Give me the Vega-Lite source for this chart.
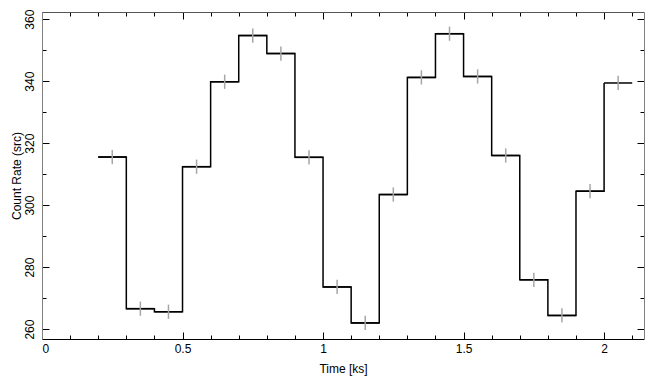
{
  "$schema": "https://vega.github.io/schema/vega-lite/v6.json",
  "width": 602,
  "height": 327,
  "autosize": "none",
  "padding": {"left": 42, "top": 12, "right": 11, "bottom": 47},
  "config": {
    "view": {"stroke": null},
    "font": "Liberation Sans",
    "axis": {"grid": false, "labelColor": "black", "titleColor": "black", "labelFontSize": 12, "titleFontSize": 12, "titleFontWeight": "normal", "tickColor": "black", "tickWidth": 1}
  },
  "data": {"values": [
    {"start": 0.2, "end": 0.3, "t": 0.25, "rate": 315.5, "lo": 313.2, "hi": 317.8},
    {"start": 0.3, "end": 0.4, "t": 0.35, "rate": 266.6, "lo": 264.3, "hi": 268.9},
    {"start": 0.4, "end": 0.5, "t": 0.45, "rate": 265.6, "lo": 263.3, "hi": 267.9},
    {"start": 0.5, "end": 0.6, "t": 0.55, "rate": 312.4, "lo": 310.1, "hi": 314.7},
    {"start": 0.6, "end": 0.7, "t": 0.65, "rate": 339.8, "lo": 337.5, "hi": 342.1},
    {"start": 0.7, "end": 0.8, "t": 0.75, "rate": 354.7, "lo": 352.4, "hi": 357.0},
    {"start": 0.8, "end": 0.9, "t": 0.85, "rate": 348.9, "lo": 346.6, "hi": 351.2},
    {"start": 0.9, "end": 1.0, "t": 0.95, "rate": 315.4, "lo": 313.1, "hi": 317.7},
    {"start": 1.0, "end": 1.1, "t": 1.05, "rate": 273.6, "lo": 271.3, "hi": 275.9},
    {"start": 1.1, "end": 1.2, "t": 1.15, "rate": 262.0, "lo": 259.7, "hi": 264.3},
    {"start": 1.2, "end": 1.3, "t": 1.25, "rate": 303.4, "lo": 301.1, "hi": 305.7},
    {"start": 1.3, "end": 1.4, "t": 1.35, "rate": 341.2, "lo": 338.9, "hi": 343.5},
    {"start": 1.4, "end": 1.5, "t": 1.45, "rate": 355.3, "lo": 353.0, "hi": 357.6},
    {"start": 1.5, "end": 1.6, "t": 1.55, "rate": 341.5, "lo": 339.2, "hi": 343.8},
    {"start": 1.6, "end": 1.7, "t": 1.65, "rate": 316.0, "lo": 313.7, "hi": 318.3},
    {"start": 1.7, "end": 1.8, "t": 1.75, "rate": 275.9, "lo": 273.6, "hi": 278.2},
    {"start": 1.8, "end": 1.9, "t": 1.85, "rate": 264.4, "lo": 262.1, "hi": 266.7},
    {"start": 1.9, "end": 2.0, "t": 1.95, "rate": 304.5, "lo": 302.2, "hi": 306.8},
    {"start": 2.0, "end": 2.1, "t": 2.05, "rate": 339.4, "lo": 337.1, "hi": 341.7}
  ]},
  "layer": [
    {
      "mark": {"type": "rule", "color": "black", "strokeWidth": 1.5},
      "encoding": {
        "x": {"field": "start", "type": "quantitative",
          "scale": {"domain": [0, 2.142], "nice": false, "zero": false},
          "axis": {"orient": "bottom", "values": [0, 0.1, 0.2, 0.3, 0.4, 0.5, 0.6, 0.7, 0.8, 0.9, 1, 1.1, 1.2, 1.3, 1.4, 1.5, 1.6, 1.7, 1.8, 1.9, 2, 2.1],
            "format": "~g",
            "labelExpr": "abs(datum.value*2-round(datum.value*2)) < 0.001 ? datum.label : ''",
            "tickSize": {"condition": {"test": "abs(datum.value*2-round(datum.value*2)) < 0.001", "value": -7}, "value": -4},
            "domainColor": "black", "labelPadding": 11, "title": "Time [ks]", "titlePadding": 9}},
        "x2": {"field": "end"},
        "y": {"field": "rate", "type": "quantitative",
          "scale": {"domain": [256.8, 362.3], "nice": false, "zero": false},
          "axis": {"orient": "left", "values": [260, 270, 280, 290, 300, 310, 320, 330, 340, 350, 360],
            "labelExpr": "datum.value % 20 == 0 ? datum.label : ''",
            "tickSize": {"condition": {"test": "datum.value % 20 == 0", "value": -7}, "value": -4},
            "labelAngle": -90, "labelAlign": "center", "labelBaseline": "bottom",
            "domainColor": "#808080", "labelPadding": 13, "title": "Count Rate (src)", "titlePadding": 0}}
      }
    },
    {
      "mark": {"type": "line", "interpolate": "step-after", "color": "black", "strokeWidth": 1.5},
      "encoding": {
        "x": {"field": "start", "type": "quantitative",
          "axis": {"orient": "top", "values": [0, 0.1, 0.2, 0.3, 0.4, 0.5, 0.6, 0.7, 0.8, 0.9, 1, 1.1, 1.2, 1.3, 1.4, 1.5, 1.6, 1.7, 1.8, 1.9, 2, 2.1],
            "labels": false, "title": null,
            "tickSize": {"condition": {"test": "abs(datum.value*2-round(datum.value*2)) < 0.001", "value": -7}, "value": -4},
            "domainColor": "#555555"}},
        "y": {"field": "rate", "type": "quantitative",
          "axis": {"orient": "right", "values": [260, 270, 280, 290, 300, 310, 320, 330, 340, 350, 360],
            "labels": false, "title": null,
            "tickSize": {"condition": {"test": "datum.value % 20 == 0", "value": -7}, "value": -4},
            "domainColor": "#808080"}}
      }
    },
    {
      "mark": {"type": "rule", "color": "#a6a6a6", "strokeWidth": 1.5},
      "encoding": {
        "x": {"field": "t", "type": "quantitative", "axis": null},
        "y": {"field": "lo", "type": "quantitative", "axis": null},
        "y2": {"field": "hi"}
      }
    }
  ],
  "resolve": {"axis": {"x": "independent", "y": "independent"}}
}
